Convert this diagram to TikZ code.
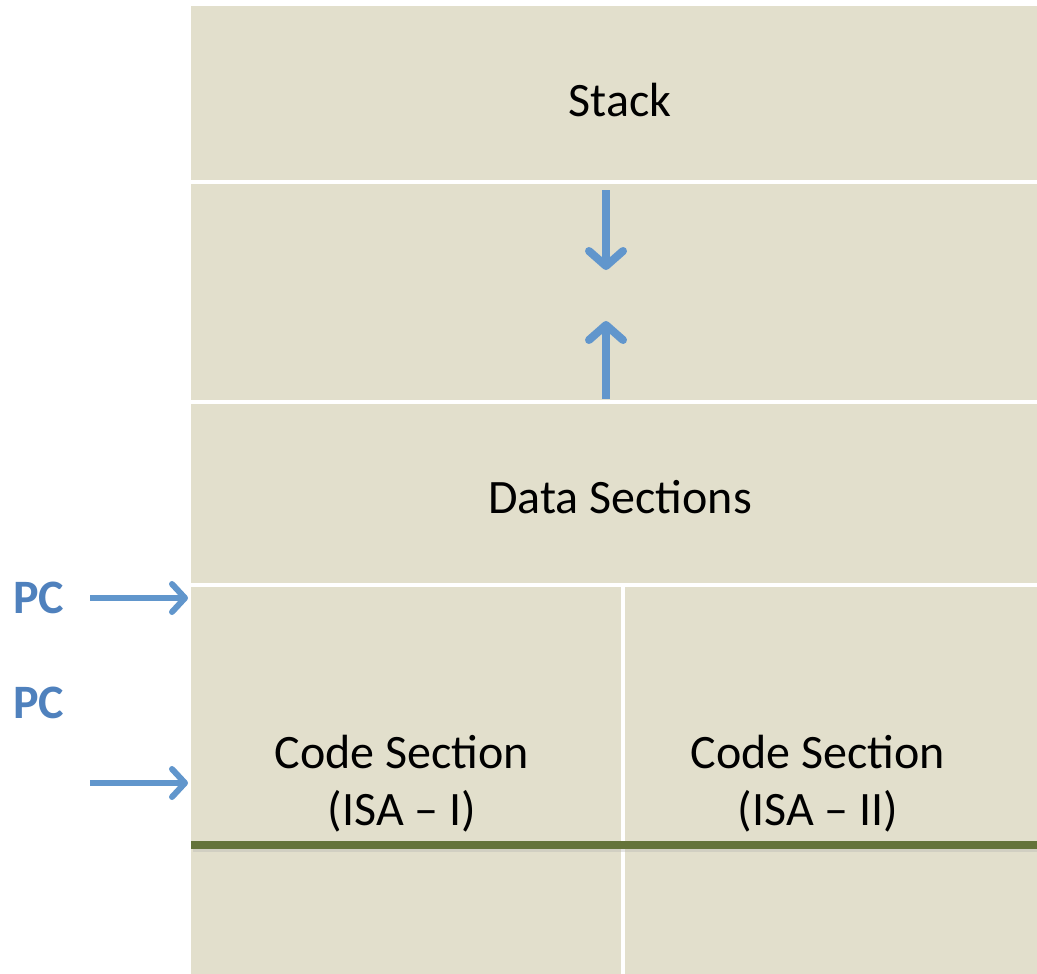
\documentclass[tikz,border=0pt]{standalone}
\usepackage{fontspec}
\setmainfont{Carlito}
\usetikzlibrary{arrows.meta}
\definecolor{memfill}{HTML}{E2DFCC}
\definecolor{arrowblue}{HTML}{6196CC}
\definecolor{pcblue}{HTML}{4F81BD}
\definecolor{divgreen}{HTML}{64733A}
\tikzset{
  region/.style={fill=memfill, draw=none},
  seg/.style={draw=white, line width=3.5pt},
  sectext/.style={font=\fontsize{48}{57}\selectfont, text=black, align=center, inner sep=0pt},
  pclabel/.style={font=\fontsize{48}{54}\selectfont\bfseries, text=pcblue, inner sep=0pt, anchor=west},
  growarrow/.style={draw=arrowblue, line width=8pt,
    -{Straight Barb[length=15pt, width=34pt, line cap=round, line join=round]}},
  pcarrow/.style={draw=arrowblue, line width=6pt,
    -{Straight Barb[length=13pt, width=28pt, line cap=round, line join=round]}}
}
\begin{document}
\begin{tikzpicture}[x=1pt, y=-1pt]
\useasboundingbox (0,0) rectangle (1037,974);
% address space background
\fill[region] (191,6) rectangle (1037,974);
% section boundaries
\draw[seg] (191,182) -- (1037,182);
\draw[seg] (191,402) -- (1037,402);
\draw[seg] (191,585) -- (1037,585);
\draw[seg] (623,587) -- (623,974);
% section texts
\node[sectext] (stack) at (620,100) {Stack};
\node[sectext] (data) at (620,497) {Data Sections};
\node[sectext] (codeA) at (402,784) {Code Section\\(ISA -- I)};
\node[sectext] (codeB) at (818,784) {Code Section\\(ISA -- II)};
% stack / heap growth arrows
\coordinate (sdTop) at (606,190);
\coordinate (sdTip) at (606,270);
\coordinate (huBot) at (606,399);
\coordinate (huTip) at (606,321);
\draw[growarrow] (sdTop) -- (sdTip);
\draw[growarrow] (huBot) -- (huTip);
% program counters
\node[pclabel] (pc1) at (13,598) {PC};
\node[pclabel] (pc2) at (13,703) {PC};
\coordinate (s1) at (90,598);
\coordinate (e1) at (188,598);
\coordinate (s2) at (90,783);
\coordinate (e2) at (188,783);
\draw[pcarrow] (s1) -- (e1);
\draw[pcarrow] (s2) -- (e2);
% divider between code and lower region
\draw[line width=3pt, black!30, opacity=0.35] (193,850.5) -- (1037,850.5);
\draw[line width=8pt, divgreen] (191,845) -- (1037,845);
\end{tikzpicture}
\end{document}
